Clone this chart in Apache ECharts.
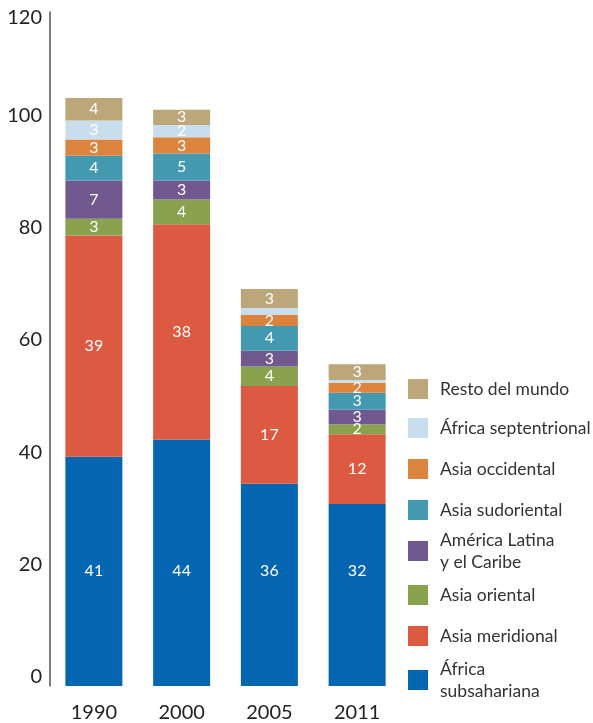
<!DOCTYPE html>
<html>
<head>
<meta charset="utf-8">
<script src="https://cdn.jsdelivr.net/npm/echarts@6/dist/echarts.min.js"></script>
<style>
  html, body { margin: 0; padding: 0; background: #fff; }
  #chart { width: 593px; height: 723px; }
</style>
</head>
<body>
<div id="chart"></div>
<script>
// datos (millones)
var years = ["1990", "2000", "2005", "2011"];
var yTicks = [0, 20, 40, 60, 80, 100, 120];

var africaSub   = [40.8, 43.9, 36.0, 32.4];
var asiaMerid   = [39.4, 38.3, 17.4, 12.4];
var asiaOrient  = [3.0, 4.4, 3.5, 1.8];
var americaLat  = [6.8, 3.4, 2.8, 2.6];
var asiaSudor   = [4.4, 4.8, 4.4, 3.0];
var asiaOccid   = [2.9, 2.9, 2.0, 1.8];
var africaSept  = [3.4, 2.2, 1.2, 0.5];
var restoMundo  = [4.0, 2.7, 3.4, 2.8];

var seriesNames = [
  "África\nsubsahariana", "Asia meridional", "Asia oriental", "América Latina\ny el Caribe",
  "Asia sudoriental", "Asia occidental", "África septentrional", "Resto del mundo"
];
var seriesData = [africaSub, asiaMerid, asiaOrient, americaLat, asiaSudor, asiaOccid, africaSept, restoMundo];
var colors = ["#0466b1", "#dc5a41", "#89a24d", "#71588f", "#4399af", "#dc843d", "#c9deec", "#bba77a"];

var font = "Lato, 'Noto Sans', sans-serif";
var myChart = echarts.init(document.getElementById("chart"));

var series = seriesData.map(function (vals, i) {
  return {
    name: seriesNames[i],
    type: "bar",
    stack: "total",
    barWidth: 57,
    data: vals,
    itemStyle: { color: colors[i] },
    label: {
      show: true,
      position: i === 0 ? "insideBottom" : "inside",
      distance: 107,
      color: "#ffffff",
      fontFamily: font,
      fontSize: 16,
      formatter: function (p) {
        return p.value < 1.5 ? "" : String(Math.round(p.value));
      }
    }
  };
});

// leyenda: un bloque por serie, de arriba abajo
var legendTops = [658, 625, 584, 529, 499, 458, 417, 378];
var legends = seriesNames.map(function (n, i) {
  return {
    data: [n],
    orient: "vertical",
    left: 408,
    top: legendTops[i],
    padding: 0,
    icon: "rect",
    itemWidth: 20,
    itemHeight: 20,
    selectedMode: false,
    textStyle: {
      fontFamily: font,
      fontSize: 17.5,
      lineHeight: 22,
      color: "#333",
      padding: [0, 0, 0, 7]
    }
  };
});

var option = {
  animation: false,
  color: colors,
  grid: { left: 50, top: 12, width: 351, height: 675 },
  legend: legends,
  xAxis: {
    type: "category",
    data: years,
    axisLine: { show: false },
    axisTick: { show: false },
    axisLabel: { color: "#222", fontFamily: font, fontSize: 20, margin: 17 }
  },
  yAxis: {
    type: "value",
    min: yTicks[0],
    max: yTicks[yTicks.length - 1],
    interval: 20,
    splitLine: { show: false },
    axisTick: { show: false },
    axisLine: { show: true, lineStyle: { color: "#555", width: 1.5 } },
    axisLabel: {
      margin: 8,
      formatter: function (v) {
        return v === 120 ? "{t|" + v + "}" : "{n|" + v + "}";
      },
      rich: {
        n: { color: "#222", fontFamily: font, fontSize: 20, padding: [0, 0, 18, 0] },
        t: { color: "#222", fontFamily: font, fontSize: 20, padding: [12, 0, 0, 0] }
      }
    }
  },
  series: series
};

myChart.setOption(option);
window.addEventListener("resize", function () {
  myChart.resize();
});
</script>
</body>
</html>
